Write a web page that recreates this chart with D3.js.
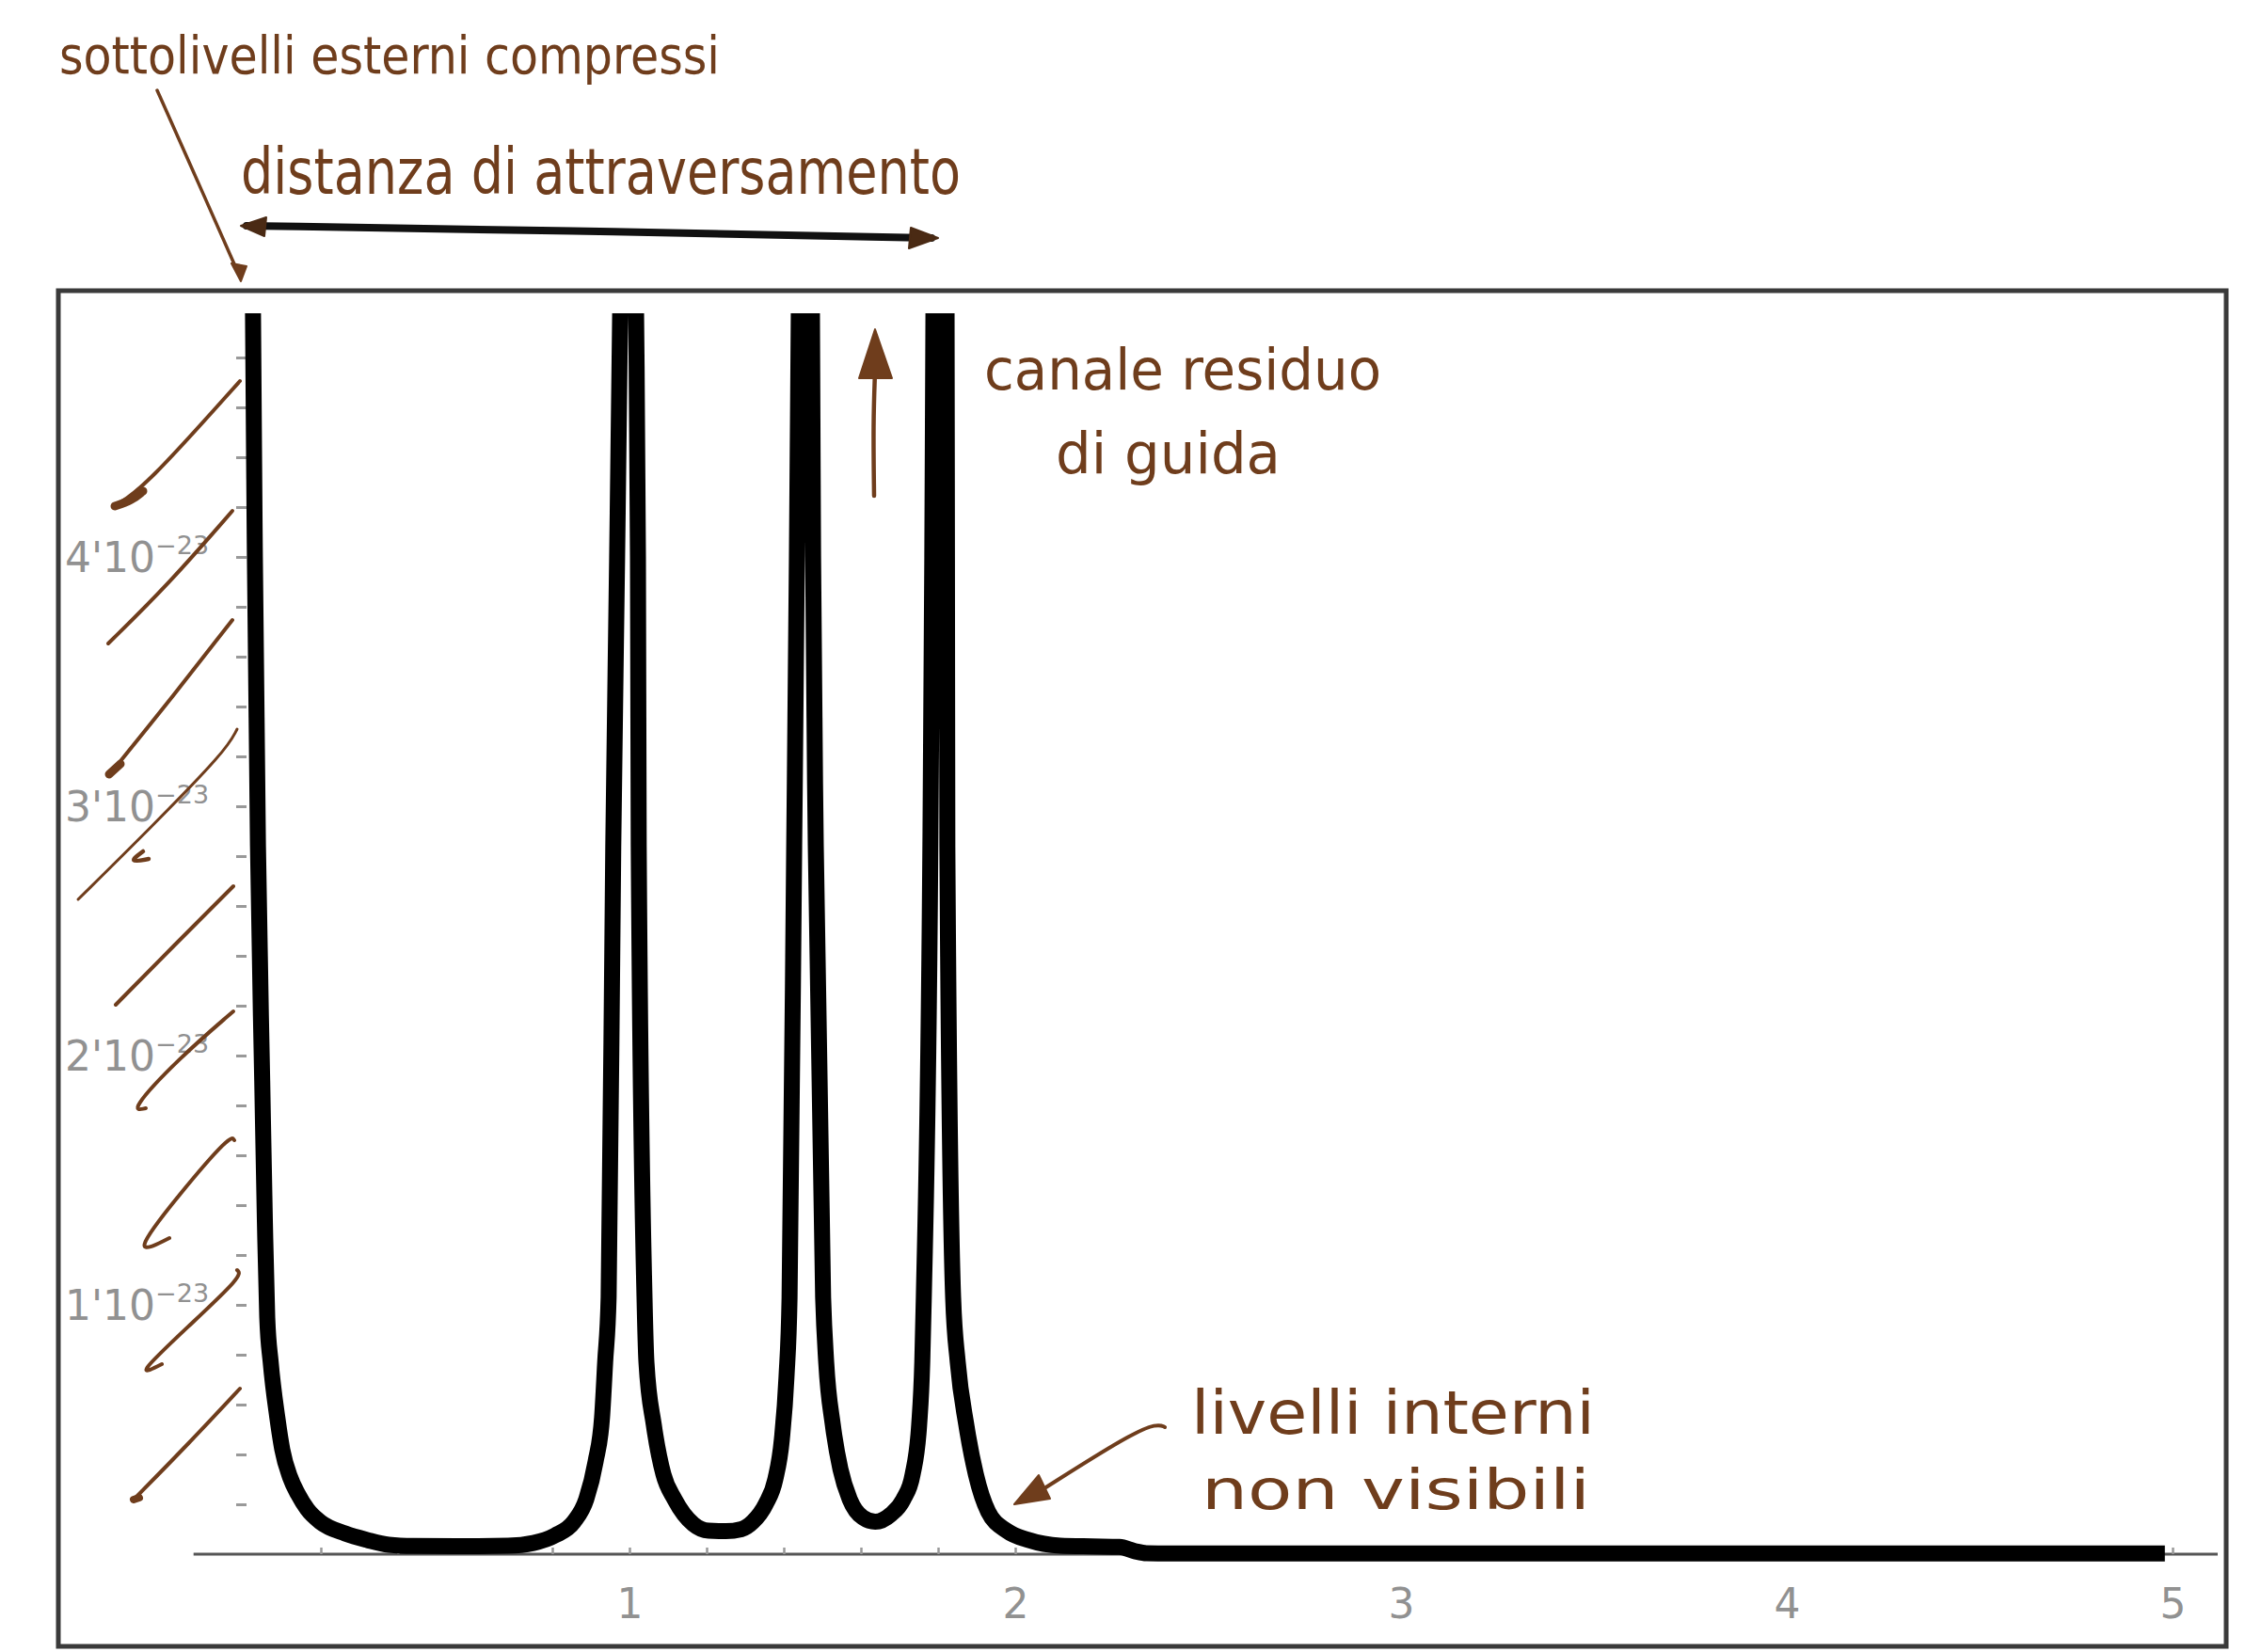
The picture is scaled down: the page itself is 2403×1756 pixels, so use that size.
<!DOCTYPE html>
<html><head><meta charset="utf-8">
<script src="https://cdn.jsdelivr.net/npm/d3@7/dist/d3.min.js"></script>
<style>html,body{margin:0;padding:0;background:#fff;}svg{display:block}</style>
</head><body>
<script>
// ---- data (y in units of 1e-23) ----
const levelX = [0.018,0.024,0.029,0.037,0.048,0.055,0.061,0.070,0.087,0.100,0.120,0.141,0.165,0.198,0.263,0.320,0.376,0.440,0.550,0.685,0.751,0.807,0.856,0.888,0.912,0.929,0.937,0.946,0.958,0.968,0.976,0.994,1.017,1.022,1.024,1.039,1.044,1.063,1.088,1.117,1.166,1.205,1.250,1.290,1.320,1.353,1.378,1.395,1.407,1.415,1.427,1.434,1.439,1.456,1.473,1.476,1.483,1.502,1.510,1.527,1.547,1.571,1.605,1.637,1.678,1.710,1.734,1.751,1.759,1.763,1.780,1.785,1.788,1.805,1.822,1.823,1.824,1.839,1.851,1.873,1.898,1.930,1.978,2.034,2.117,2.200,2.270,2.310,2.340,2.400,2.600,3.000,4.000,4.980];
const levelY = [7.0,5.0,4.0,2.84,1.9,1.33,0.95,0.77,0.55,0.42,0.31,0.24,0.18,0.13,0.083,0.057,0.038,0.033,0.032,0.034,0.045,0.075,0.13,0.22,0.37,0.55,0.77,1.03,2.84,4.0,5.0,8.0,5.0,4.0,2.84,1.03,0.77,0.52,0.32,0.22,0.12,0.094,0.092,0.10,0.13,0.20,0.30,0.46,0.71,1.03,2.84,4.0,5.0,8.0,5.0,4.0,2.84,1.03,0.77,0.52,0.34,0.22,0.147,0.13,0.16,0.22,0.32,0.52,0.77,1.03,2.84,4.0,5.0,8.0,5.0,4.0,2.84,1.03,0.77,0.52,0.32,0.17,0.094,0.057,0.034,0.031,0.029,0.012,0.004,0.003,0.003,0.003,0.003,0.003];
const xTickValues = [1,2,3,4,5];
const xTickLabels = ["1","2","3","4","5"];
const yTickValues = [1,2,3,4];
const yTickMantissa = ["1","2","3","4"];
const yTickExponent = "\u221223";
const noteTop = "sottolivelli esterni compressi";
const noteSpan = "distanza di attraversamento";
const noteChannel1 = "canale residuo";
const noteChannel2 = "di guida";
const noteInner1 = "livelli interni";
const noteInner2 = "non visibili";

// ---- layout ----
const W = 2403, H = 1756;
const brown = "#6f3d1c";
const svg = d3.select("body").append("svg").attr("width", W).attr("height", H);
svg.append("rect").attr("width", W).attr("height", H).attr("fill", "#fff");

const x = d3.scaleLinear().domain([0, 5]).range([259, 2309]);
const y = d3.scaleLinear().domain([0, 4]).range([1652, 592]);

// frame
svg.append("rect").attr("x", 62).attr("y", 309).attr("width", 2304).attr("height", 1441)
  .attr("fill", "none").attr("stroke", "#3a3a3a").attr("stroke-width", 5);

// x axis line
svg.append("line").attr("x1", x(-0.13)).attr("x2", x(5.117)).attr("y1", y(0)).attr("y2", y(0))
  .attr("stroke", "#555").attr("stroke-width", 3);

const minor = d3.range(1, 26).map(i => +(i * 0.2).toFixed(1));
const gx = svg.append("g").attr("transform", `translate(0,${y(0)})`)
  .call(d3.axisTop(x).tickValues(minor).tickSize(7).tickFormat(""));
gx.select(".domain").remove();
gx.selectAll(".tick line").attr("stroke", "#999").attr("stroke-width", 2.5);

const gxl = svg.append("g").attr("transform", `translate(0,${y(0)})`)
  .call(d3.axisBottom(x).tickValues(xTickValues).tickSize(0).tickFormat((d, i) => xTickLabels[i]));
gxl.select(".domain").remove();
gxl.selectAll(".tick text").attr("y", 68).attr("dy", null)
  .attr("font-family", "DejaVu Sans, sans-serif").attr("font-size", 44).attr("fill", "#919191");

const yMinor = d3.range(1, 25).map(i => +(i * 0.2).toFixed(1));
const gy = svg.append("g").attr("transform", `translate(${x(0) + 3},0)`)
  .call(d3.axisLeft(y).tickValues(yMinor).tickSize(11).tickFormat(""));
gy.select(".domain").remove();
gy.selectAll(".tick line").attr("stroke", "#999").attr("stroke-width", 3);

const yl = svg.append("g").selectAll("text").data(yTickValues).join("text")
  .attr("x", 69).attr("y", d => y(d) + 16)
  .attr("font-family", "DejaVu Sans, sans-serif").attr("font-size", 44).attr("fill", "#919191");
yl.append("tspan").text((d, i) => yTickMantissa[i] + "'10");
yl.append("tspan").attr("font-size", 27).attr("dy", -19).text(yTickExponent);

// curve
svg.append("clipPath").attr("id", "plotclip").append("rect")
  .attr("x", 0).attr("y", 333).attr("width", W).attr("height", H - 333);
const pts = levelX.map((v, i) => [v, levelY[i]]);
svg.append("path").datum(pts)
  .attr("clip-path", "url(#plotclip)")
  .attr("d", d3.line().x(d => x(d[0])).y(d => y(d[1])).curve(d3.curveMonotoneX))
  .attr("fill", "none").attr("stroke", "#000").attr("stroke-width", 17)
  .attr("stroke-linejoin", "round").attr("stroke-linecap", "butt");

// ---- hand annotations ----
const hand = "Liberation Sans Narrow, DejaVu Sans Condensed, DejaVu Sans, sans-serif";
function note(t, x0, x1, base, fs) {
  svg.append("text").attr("x", x0).attr("y", base).attr("font-family", hand)
    .attr("font-size", fs).attr("fill", brown).attr("textLength", x1 - x0)
    .attr("lengthAdjust", "spacingAndGlyphs").text(t);
}
note(noteTop, 63, 765, 78, 56);
note(noteSpan, 256, 1021, 206, 68);
note(noteChannel1, 1046, 1468, 414, 60);
note(noteChannel2, 1122, 1361, 503, 60);
note(noteInner1, 1266, 1695, 1524, 64);
note(noteInner2, 1277, 1690, 1604, 58);

const pen = d3.line().curve(d3.curveBasis);
function stroke(p, w, col) {
  svg.append("path").attr("d", pen(p)).attr("fill", "none").attr("stroke", col || brown)
    .attr("stroke-width", w || 4).attr("stroke-linecap", "round").attr("stroke-linejoin", "round");
}
function head(p, col) {
  svg.append("path").attr("d", "M" + p.join("L") + "Z").attr("fill", col || brown)
    .attr("stroke", col || brown).attr("stroke-width", 2).attr("stroke-linejoin", "round");
}

// arrow from top note to left peak
stroke([[167, 96], [200, 170], [254, 292]], 3.5);
head([[256, 299], [246, 280], [262, 283]]);

// double arrow
stroke([[262, 240], [600, 245], [990, 253]], 8, "#111");
head([[256, 240], [283, 231], [281, 251]], "#4a2a14");
head([[997, 253], [968, 242], [966, 264]], "#4a2a14");

// up arrow between peaks 2 and 3
stroke([[929, 527], [928, 450], [930, 395]], 4.5);
head([[930, 350], [913, 402], [948, 402]]);

// arrow to inner levels
stroke([[1238, 1517], [1230, 1513], [1200, 1525], [1110, 1582]], 4);
head([[1078, 1599], [1104, 1568], [1116, 1593]]);

// hatching along the left peak
stroke([[123, 537], [153, 519], [255, 405]], 4);
stroke([[122, 538], [140, 532], [152, 522]], 9);
stroke([[115, 684], [180, 620], [247, 543]], 4);
stroke([[115, 825], [180, 745], [247, 659]], 4);
stroke([[116, 823], [128, 812]], 9);
stroke([[83, 956], [160, 880], [240, 798], [252, 775]], 3);
stroke([[152, 905], [136, 917], [158, 913]], 4.5);
stroke([[123, 1068], [185, 1005], [248, 942]], 4);
stroke([[248, 1075], [190, 1125], [137, 1182], [155, 1178]], 4);
stroke([[249, 1212], [245, 1206], [190, 1270], [138, 1337], [180, 1316]], 4);
stroke([[252, 1350], [258, 1356], [200, 1410], [142, 1465], [172, 1450]], 4);
stroke([[255, 1476], [200, 1535], [142, 1594]], 4);
stroke([[142, 1594], [148, 1592]], 8);
</script>
</body></html>
